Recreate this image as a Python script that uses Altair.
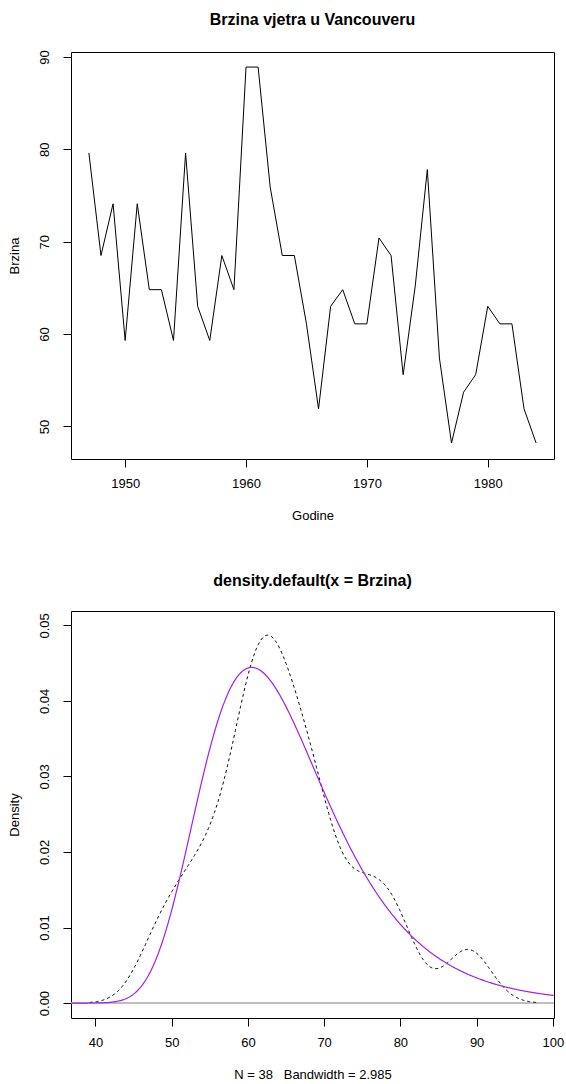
import altair as alt
import pandas as pd

# ---- data ----
godine = list(range(1947, 1985))
brzina = [79.6, 68.5, 74.1, 59.3, 74.1, 64.8, 64.8, 59.3, 79.6, 63.0,
          59.3, 68.5, 64.8, 88.9, 88.9, 75.9, 68.5, 68.5, 61.1, 51.9,
          63.0, 64.8, 61.1, 61.1, 70.4, 68.5, 55.6, 65.2, 77.8, 57.4,
          48.2, 53.7, 55.6, 63.0, 61.1, 61.1, 51.9, 48.2]
bandwidth = 2.985
gumbel_mu = 60.5      # location of fitted (purple) curve
gumbel_beta = 8.28    # scale of fitted (purple) curve

x_ticks_top = [1950, 1960, 1970, 1980]
y_ticks_top = [50, 60, 70, 80, 90]
x_ticks_bot = [40, 50, 60, 70, 80, 90, 100]
y_ticks_bot = [0.0, 0.01, 0.02, 0.03, 0.04, 0.05]

df = pd.DataFrame({"Godine": godine, "Brzina": brzina})

FONT = "Liberation Sans"
W, H = 483, 407

def title(text):
    return alt.Title(text, fontSize=16, fontWeight="bold", font=FONT, color="black",
                     anchor="middle", baseline="alphabetic", offset=9)

def xaxis(ticks, fmt, ttl):
    return alt.Axis(values=ticks, format=fmt, title=ttl, grid=False, domain=False,
                    tickColor="black", tickSize=8, labelFont=FONT, labelFontSize=13,
                    labelColor="black", labelPadding=10, titleFont=FONT, titleFontSize=13,
                    titleFontWeight="normal", titleColor="black", titlePadding=19)

def yaxis(ticks, fmt, ttl):
    return alt.Axis(values=ticks, format=fmt, title=ttl, grid=False, domain=False,
                    tickColor="black", tickSize=8, labelFont=FONT, labelFontSize=13,
                    labelColor="black", labelAngle=270, labelAlign="center",
                    labelBaseline="bottom", labelPadding=12, titleFont=FONT,
                    titleFontSize=13, titleFontWeight="normal", titleColor="black",
                    titlePadding=17)

top = alt.Chart(df, title=title("Brzina vjetra u Vancouveru")).mark_line(
    color="black", strokeWidth=1, clip=True
).encode(
    x=alt.X("Godine:Q", scale=alt.Scale(domain=[1945.52, 1985.48], nice=False, zero=False),
            axis=xaxis(x_ticks_top, "d", "Godine")),
    y=alt.Y("Brzina:Q", scale=alt.Scale(domain=[46.47, 90.53], nice=False, zero=False),
            axis=yaxis(y_ticks_top, "d", "Brzina")),
).properties(width=W, height=H)

xmin = min(brzina) - 3 * bandwidth
xmax = max(brzina) + 3 * bandwidth
xscale = alt.Scale(domain=[36.8, 100.15], nice=False, zero=False)
yscale = alt.Scale(domain=[-0.00198, 0.0519], nice=False, zero=False)

dens = alt.Chart(df).transform_density(
    "Brzina", bandwidth=bandwidth, extent=[xmin, xmax], steps=512, as_=["x", "d"]
).mark_line(color="black", strokeWidth=1, strokeDash=[3, 3], clip=True).encode(
    x=alt.X("x:Q", scale=xscale,
            axis=xaxis(x_ticks_bot, "d", "N = 38\u00a0\u00a0\u00a0Bandwidth = 2.985")),
    y=alt.Y("d:Q", scale=yscale, axis=yaxis(y_ticks_bot, ".2f", "Density")),
)

zero = alt.Chart(df).mark_rule(color="#BEBEBE", strokeWidth=1).encode(y=alt.datum(0))

gum = alt.Chart(alt.sequence(36.8, 100.2, 0.1, as_="x")).transform_calculate(
    z="(datum.x - %f) / %f" % (gumbel_mu, gumbel_beta)
).transform_calculate(
    g="exp(-(datum.z + exp(-datum.z))) / %f" % gumbel_beta
).mark_line(color="#A020F0", strokeWidth=1.2, clip=True).encode(
    x=alt.X("x:Q", scale=xscale),
    y=alt.Y("g:Q", scale=yscale),
)

bottom = alt.layer(zero, dens, gum, title=title("density.default(x = Brzina)")).properties(
    width=W, height=H)

chart = alt.vconcat(top, bottom, spacing=152, bounds="flush").properties(
    padding={"left": 7, "top": 11, "right": 0, "bottom": 0},
    background="white",
).configure_view(stroke="black", strokeWidth=1)

chart.save("out.html", embed_options={"renderer": "svg", "actions": False})
